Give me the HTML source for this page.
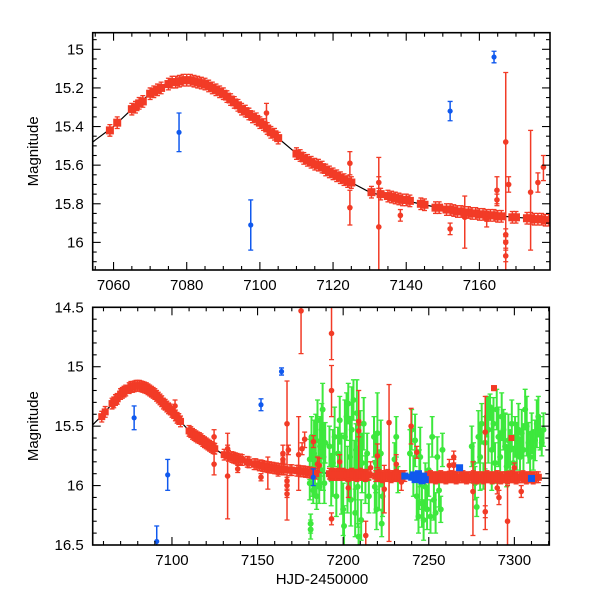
<!DOCTYPE html>
<html><head><meta charset="utf-8"><style>
html,body{margin:0;padding:0;background:#fff;}
svg{display:block;}
text{font-family:"Liberation Sans",sans-serif;fill:#000;}
</style></head><body>
<svg id="chart" width="600" height="600" viewBox="0 0 600 600"></svg>
<script>
// ---- data ----
const lineT=[7050,7055,7060,7065,7070,7075,7080,7085,7090,7095,7100,7105,7110,7115,7120,7125,7130,7135,7140,7145,7150,7160,7170,7180,7200,7230,7260,7300,7330];
const lineM=[15.55,15.47,15.40,15.31,15.23,15.18,15.16,15.18,15.23,15.31,15.38,15.46,15.54,15.60,15.645,15.69,15.74,15.765,15.785,15.805,15.825,15.855,15.87,15.885,15.905,15.92,15.93,15.935,15.94];

const bandT=[7059,7061,7065,7066,7067,7068,7070,7071,7072,7073,7075,7076,7077,7078,7079,7080,7081,7082,7083,7084,7085,7086,7087,7088,7089,7090,7091,7092,7093,7094,7095,7096,7097,7098,7099,7100,7101,7102,7103,7104,7105,7110,7111,7112,7113,7114,7115,7116,7117,7118,7119,7120,7121,7122,7123,7124,7125,7130.5,7133,7135,7136,7137,7138,7139,7140,7141,7144,7145,7148,7149,7151,7152,7153,7154,7155,7156,7157,7158,7159,7160,7161,7162,7163,7164,7165,7166,7169,7170,7173,7174,7175,7176,7177,7178,7179,7180,7181,7182,7183,7184,
7192,7193,7194,7195,7196,7197,7198,7199,7200,7201,7202,7203,7204,7205,7206,7207,7208,7209,7210,7211,7212,7213,7214,7215,
7219,7220,7221,7222,7223,7224,7225,7226,7227,7228,7229,7230,7231,7232,7233,7234,7235,7236,
7249,7250,7251,7252,7253,7254,7255,7256,7257,7258,7259,7260,7261,7262,7263,7264,7265,7266,7267,7268,7269,7270,7271,7272,7273,7274,7275,7276,7277,7278,7279,7280,7281,7282,7283,7284,7285,7286,7287,7288,7289,7290,7291,7292,7293,7294,7295,7296,7297,7298,7299,7300,7301,7302,7303,7304,7305,7306,7307,7308,7309,7310,7311,7312,7313,7314];
const bandM=[15.42,15.38,15.31,15.30,15.28,15.27,15.23,15.22,15.21,15.20,15.18,15.17,15.17,15.165,15.16,15.16,15.16,15.165,15.17,15.175,15.18,15.19,15.20,15.21,15.22,15.23,15.245,15.26,15.275,15.29,15.31,15.32,15.335,15.35,15.36,15.38,15.39,15.41,15.43,15.44,15.46,15.54,15.55,15.565,15.575,15.585,15.595,15.60,15.61,15.625,15.635,15.645,15.655,15.665,15.675,15.685,15.69,15.74,15.75,15.76,15.765,15.77,15.775,15.78,15.78,15.785,15.80,15.805,15.82,15.82,15.83,15.83,15.835,15.84,15.84,15.845,15.845,15.85,15.85,15.855,15.855,15.86,15.86,15.86,15.865,15.865,15.87,15.87,15.875,15.875,15.88,15.88,15.88,15.885,15.885,15.89,15.89,15.895,15.895,15.90,
15.90,15.91,15.90,15.91,15.91,15.90,15.91,15.91,15.90,15.91,15.91,15.92,15.91,15.90,15.91,15.91,15.92,15.91,15.90,15.91,15.91,15.92,15.91,15.91,
15.92,15.92,15.91,15.92,15.93,15.92,15.92,15.91,15.92,15.93,15.92,15.92,15.91,15.92,15.92,15.93,15.92,15.92,
15.93,15.93,15.92,15.93,15.93,15.94,15.93,15.93,15.92,15.93,15.93,15.94,15.93,15.93,15.92,15.93,15.93,15.94,15.93,15.93,15.93,15.92,15.93,15.94,15.93,15.93,15.93,15.92,15.93,15.94,15.93,15.93,15.93,15.94,15.93,15.92,15.93,15.93,15.94,15.93,15.93,15.92,15.93,15.94,15.93,15.93,15.93,15.94,15.93,15.93,15.92,15.93,15.94,15.93,15.93,15.93,15.92,15.93,15.94,15.93,15.93,15.93,15.94,15.93,15.93,15.93];

const redT=[7101.8,7124.6,7124.6,7132.5,7132.5,7138.4,7152,7156,7162,7164.8,7164.8,7167.2,7167.2,7167.2,7167.2,7168,7174,7176,7177.5,7175.4,7193.2,7193.2,7193.2,7209.1,7209.1,7213.2,7226.8,7239.7,7283,7283,7296,7275.8,7264.6,7264.6,7182.6,7186,7220,7224,7231,7243,7262,7290,7291,7304,7300,7185,7198,7203,7216,7234];
const redM=[15.33,15.59,15.82,15.92,15.69,15.86,15.93,15.87,15.88,15.73,15.78,15.48,15.96,16.00,16.07,15.70,15.74,15.69,15.61,14.53,14.72,15.20,16.28,15.46,15.54,16.42,15.47,15.50,15.55,16.22,16.30,16.05,15.83,15.76,15.63,15.83,15.75,16.03,15.82,15.72,15.83,16.02,16.10,16.05,15.85,15.82,15.80,16.02,15.85,15.97];
const redLo=[15.28,15.53,15.73,15.56,15.66,15.83,15.90,15.76,15.84,15.66,15.75,15.12,15.93,15.97,16.04,15.66,15.42,15.64,15.55,14.45,14.45,14.99,16.23,15.20,15.49,16.30,15.15,15.35,15.25,16.17,16.00,15.80,15.78,15.71,15.58,15.77,15.65,15.83,15.74,15.67,15.78,15.97,16.04,16.00,15.81,15.76,15.74,15.94,15.80,15.90];
const redHi=[15.38,15.65,15.91,16.28,15.72,15.89,15.96,16.03,15.92,15.80,15.81,16.29,15.99,16.03,16.10,15.74,16.04,15.74,15.68,14.89,14.94,15.42,16.33,15.87,15.59,16.55,16.47,15.65,16.37,16.27,16.60,16.42,15.88,15.81,15.68,15.89,15.85,16.23,15.90,15.77,15.88,16.07,16.16,16.10,15.89,15.88,15.86,16.10,15.90,16.04];
const redSqT=[7288.1,7298.3,7297];
const redSqM=[15.18,15.60,15.90];

const greenT=[7180.5,7180.5,7181,7181,7181.5,7182,7182.5,7183,7183.5,7184,7184.5,7185,7185.5,7186,7186.5,7187,7187.5,7188,7188.5,7189,7189.5,
7192,7193,7194,7195,7196,7197,7198,7199,7200,7200.5,7201,7202,7202.5,7203,7204,7204.5,7205,7206,7206.5,7207,7207.5,7208,7208.5,7209,7210,7210.5,7211,7212,7213,7214,7215,
7218,7218.5,7219,7219.5,7220,7221,7222,7222.5,7223,7230,7231,7232,
7239,7240,7241,7242,7243,7244,7244.5,7245,7246,7247,7248,7249,7250,7251,7252,7253,7254,7255,7256,7257,7258,
7275.1,7276.1,7277.0,7278.0,7279.0,7280.0,7280.9,7281.9,7282.9,7283.9,7284.8,7285.8,7286.8,7287.8,7288.7,7289.7,7290.7,7291.7,7292.6,7293.6,7294.6,7295.5,7296.5,7297.5,7298.5,7299.4,7300.4,7301.4,7302.4,7303.3,7304.3,7305.3,7306.3,7307.2,7308.2,7309.2,7310.1,7311.1,7312.1,7313.1,7314.0,7315.0,7316.0,7317.0];
const greenM=[15.78,15.98,16.32,16.37,15.59,15.87,16.04,15.73,15.92,15.62,16.09,15.45,15.81,16.01,15.67,15.87,15.53,15.36,15.76,15.98,15.64,
15.67,15.95,15.81,15.59,16.09,15.73,15.45,15.90,16.20,16.34,15.59,15.42,15.95,15.31,15.76,16.12,15.53,15.28,15.87,16.23,15.70,15.39,16.01,16.43,15.62,16.29,15.81,15.48,15.95,15.73,16.09,
15.59,16.01,15.81,16.20,15.56,15.95,15.73,16.32,16.09,15.78,15.59,15.95,
15.73,15.53,15.92,15.62,16.09,16.26,15.95,15.76,16.15,16.29,16.01,16.20,15.87,16.26,15.59,16.12,16.23,15.76,16.04,16.20,15.70,
15.67,15.81,15.98,16.18,15.59,15.76,15.48,15.92,15.64,15.42,15.53,15.34,15.70,15.48,15.81,15.36,15.59,15.76,15.42,15.53,15.67,15.84,15.62,15.70,15.48,15.81,15.59,15.67,15.53,15.76,15.56,15.70,15.36,15.50,15.64,15.76,15.56,15.70,15.62,15.48,15.42,15.56,15.64,15.53];
const greenE=[.17,.14,.08,.08,.17,.22,.11,.28,.17,.22,.11,.17,.20,.14,.25,.17,.22,.22,.28,.17,.17,
.17,.22,.28,.25,.17,.22,.20,.34,.22,.17,.31,.20,.28,.17,.34,.22,.36,.17,.25,.20,.22,.28,.34,.11,.25,.17,.25,.22,.20,.17,.14,
.17,.22,.25,.17,.34,.25,.28,.11,.17,.14,.17,.11,
.20,.17,.17,.22,.20,.14,.25,.25,.20,.17,.20,.17,.22,.14,.17,.17,.17,.17,.14,.11,.14,
.17,.17,.14,.08,.22,.28,.17,.11,.22,.17,.28,.11,.34,.22,.17,.17,.25,.22,.20,.17,.28,.17,.22,.17,.20,.14,.17,.20,.22,.17,.20,.22,.17,.25,.17,.20,.17,.17,.17,.20,.17,.14,.11,.14];

const blueT=[7077.9,7091.1,7097.5,7152,7164,7182.5];
const blueM=[15.43,16.47,15.91,15.32,15.04,15.93];
const blueE=[0.10,0.13,0.13,0.05,0.03,0.07];
const blueSqT=[7240,7241,7242,7243,7244,7245,7246,7247,7248,7268,7310,7236];
const blueSqM=[15.93,15.91,15.95,15.92,15.90,15.94,15.96,15.92,15.95,15.85,15.94,15.92];

const topXTicks=[7060,7080,7100,7120,7140,7160];
const topYTicks=[15,15.2,15.4,15.6,15.8,16];
const topYLabels=["15","15.2","15.4","15.6","15.8","16"];
const botXTicks=[7100,7150,7200,7250,7300];
const botYTicks=[14.5,15,15.5,16,16.5];
const botYLabels=["14.5","15","15.5","16","16.5"];

// ---- drawing ----
const NS="http://www.w3.org/2000/svg";
const svg=document.getElementById('chart');
function mk(tag,attrs,parent){const e=document.createElementNS(NS,tag);for(const k in attrs)e.setAttribute(k,attrs[k]);(parent||svg).appendChild(e);return e;}
const RED="#f23b26",GREEN="#3de83d",BLUE="#1059ee";

const panels=[
 {id:'top',x0:92.7,x1:550,y0:32.7,y1:270,t0:7054.3,t1:7179.3,m0:14.914,m1:16.143,xMaj:topXTicks,xMin:5,yMaj:topYTicks,yLab:topYLabels,yMin:0.05,sq:8,errAmp:0.03},
 {id:'bottom',x0:92.7,x1:549.3,y0:307.3,y1:545,t0:7053.7,t1:7320.4,m0:14.5,m1:16.5,xMaj:botXTicks,xMin:10,yMaj:botYTicks,yLab:botYLabels,yMin:0.1,sq:7,errAmp:0.045}
];

panels.forEach(p=>{
 const X=t=>p.x0+(t-p.t0)/(p.t1-p.t0)*(p.x1-p.x0);
 const Y=m=>p.y0+(m-p.m0)/(p.m1-p.m0)*(p.y1-p.y0);
 const g=mk('g',{});
 
 
 const cp=mk('clipPath',{id:'clip-'+p.id},g);
 mk('rect',{x:p.x0,y:p.y0,width:p.x1-p.x0,height:p.y1-p.y0},cp);
 const plot=mk('g',{'clip-path':'url(#clip-'+p.id+')'},g);
 
 

 let d='';lineT.forEach((t,i)=>{d+=(i?'L':'M')+X(t).toFixed(2)+' '+Y(lineM[i]).toFixed(2);});
 const ln=mk('path',{d:d,fill:'none',stroke:'#000','stroke-width':1.2},plot);
 
 

 function errbar(parent,t,lo,hi,col,w){
  const x=X(t);
  mk('line',{x1:x,x2:x,y1:Y(lo),y2:Y(hi),stroke:col,'stroke-width':w||1.5},parent);
  mk('line',{x1:x-2.5,x2:x+2.5,y1:Y(lo),y2:Y(lo),stroke:col,'stroke-width':1.3},parent);
  mk('line',{x1:x-2.5,x2:x+2.5,y1:Y(hi),y2:Y(hi),stroke:col,'stroke-width':1.3},parent);
 }
 const gg=mk('g',{},plot);
 
 
 greenT.forEach((t,i)=>{
  errbar(gg,t,greenM[i]-greenE[i],greenM[i]+greenE[i],GREEN,2);
  const c=mk('circle',{cx:X(t),cy:Y(greenM[i]),r:3,fill:GREEN},gg);
  
  
 });
 const rg=mk('g',{},plot);
 
 
 bandT.forEach((t,i)=>{
  errbar(rg,t,bandM[i]-p.errAmp,bandM[i]+p.errAmp,RED);
  const s=p.sq;
  const r=mk('rect',{x:X(t)-s/2,y:Y(bandM[i])-s/2,width:s,height:s,fill:RED},rg);
  
  
 });
 redT.forEach((t,i)=>{
  errbar(rg,t,redLo[i],redHi[i],RED);
  const c=mk('circle',{cx:X(t),cy:Y(redM[i]),r:2.8,fill:RED},rg);
  
  
 });
 redSqT.forEach((t,i)=>{
  errbar(rg,t,redSqM[i]-0.02,redSqM[i]+0.02,RED);
  const r=mk('rect',{x:X(t)-3,y:Y(redSqM[i])-3,width:6,height:6,fill:RED},rg);
  
  
 });
 const bg=mk('g',{},plot);
 
 
 blueT.forEach((t,i)=>{
  errbar(bg,t,blueM[i]-blueE[i],blueM[i]+blueE[i],BLUE);
  const c=mk('circle',{cx:X(t),cy:Y(blueM[i]),r:2.6,fill:BLUE},bg);
  
  
 });
 blueSqT.forEach((t,i)=>{
  const r=mk('rect',{x:X(t)-3.5,y:Y(blueSqM[i])-3.5,width:7,height:7,fill:BLUE},bg);
  
  
 });

 const fr=mk('rect',{x:p.x0,y:p.y0,width:p.x1-p.x0,height:p.y1-p.y0,fill:'none',stroke:'#000','stroke-width':1.6},g);
 
 
 const ax=mk('g',{stroke:'#000','stroke-width':1.1},g);
 
 
 for(let t=Math.ceil(p.t0/p.xMin)*p.xMin;t<=p.t1;t+=p.xMin){
  const maj=p.xMaj.indexOf(t)>=0 || (p.id==='bottom' && t%50===0) || (p.id==='top' && t%20===0);
  const L=maj?8:4,x=X(t);
  mk('line',{x1:x,x2:x,y1:p.y1,y2:p.y1-L},ax);
  mk('line',{x1:x,x2:x,y1:p.y0,y2:p.y0+L},ax);
 }
 p.xMaj.forEach(t=>{
  const tx=mk('text',{x:X(t),y:p.y1+20,'text-anchor':'middle','font-size':15},g);
  tx.textContent=t;
  
  
 });
 const nMin=Math.round((p.m1-p.m0)/p.yMin)+2;
 for(let k=0;k<nMin;k++){
  const m=Math.ceil(p.m0/p.yMin-1e-6)*p.yMin+k*p.yMin;
  if(m>p.m1+1e-6)break;
  const maj=p.yMaj.some(v=>Math.abs(v-m)<1e-6);
  const L=maj?8:4,y=Y(m);
  mk('line',{x1:p.x0,x2:p.x0+L,y1:y,y2:y},ax);
  mk('line',{x1:p.x1,x2:p.x1-L,y1:y,y2:y},ax);
 }
 p.yMaj.forEach((m,i)=>{
  const tx=mk('text',{x:p.x0-9,y:Y(m)+5,'text-anchor':'end','font-size':15},g);
  tx.textContent=p.yLab[i];
  
  
 });
 const yl=mk('text',{x:0,y:0,'text-anchor':'middle','font-size':15,transform:'translate(38,'+((p.y0+p.y1)/2)+') rotate(-90)'},g);
 yl.textContent='Magnitude';
 
 
});
const xl=mk('text',{x:322,y:584,'text-anchor':'middle','font-size':15,'font-family':'Liberation Serif, serif'});
xl.textContent='HJD-2450000';


</script>
</body></html>
